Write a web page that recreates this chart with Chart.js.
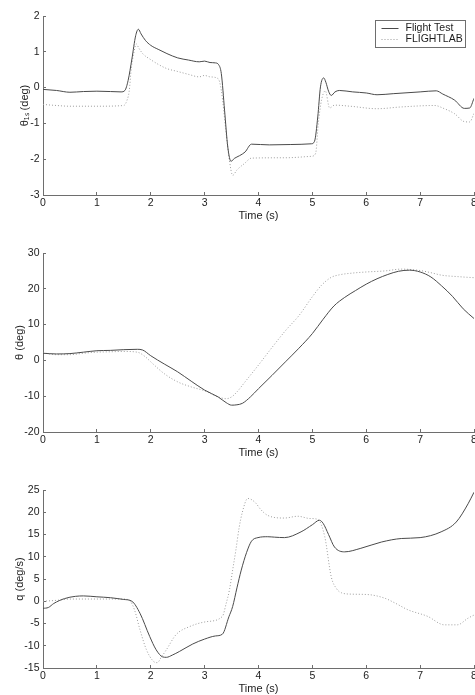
<!DOCTYPE html>
<html><head><meta charset="utf-8">
<script src="https://cdn.jsdelivr.net/npm/chart.js@4/dist/chart.umd.min.js"></script>
<style>
html,body{margin:0;padding:0;background:#fff;width:475px;height:695px;overflow:hidden;position:relative}
canvas{position:absolute;left:0}
</style></head><body>
<canvas id="c1" width="500" height="232" style="top:0px"></canvas>
<canvas id="c2" width="500" height="232" style="top:232px"></canvas>
<canvas id="c3" width="500" height="250" style="top:464px"></canvas>
<script>
// ---------- data ----------
const seriesLabels = ['Flight Test', 'FLIGHTLAB'];
const xTitle = 'Time (s)';
const xTicks = [0, 1, 2, 3, 4, 5, 6, 7, 8];

// Plot 1: theta_1s (deg)
const yTitle1 = 'θ₁ₛ (deg)';
const yTicks1 = [-3, -2, -1, 0, 1, 2];
const t1Flight = [0,0.25,0.5,0.75,1.0,1.25,1.45,1.52,1.58,1.65,1.72,1.77,1.82,1.9,2.0,2.15,2.3,2.5,2.7,2.9,3.0,3.1,3.2,3.26,3.31,3.37,3.43,3.49,3.55,3.65,3.75,3.87,4.2,4.6,4.98,5.04,5.1,5.15,5.21,5.25,5.3,5.35,5.42,5.5,5.75,6.0,6.2,6.5,7.0,7.3,7.42,7.64,7.82,7.92,8.0];
const y1Flight = [-0.05,-0.08,-0.13,-0.11,-0.1,-0.11,-0.12,-0.08,0.2,0.8,1.45,1.63,1.5,1.32,1.18,1.06,0.95,0.83,0.77,0.72,0.74,0.7,0.69,0.64,0.39,-0.63,-1.66,-2.06,-1.98,-1.9,-1.8,-1.58,-1.6,-1.59,-1.57,-1.5,-0.82,0.02,0.27,0.15,-0.1,-0.22,-0.12,-0.08,-0.12,-0.15,-0.2,-0.17,-0.12,-0.09,-0.18,-0.35,-0.58,-0.57,-0.3];
const t1Lab = [0,0.25,0.5,1.0,1.5,1.56,1.6,1.64,1.69,1.73,1.78,1.85,2.0,2.15,2.3,2.5,2.7,2.9,3.0,3.1,3.25,3.31,3.4,3.46,3.52,3.6,3.74,3.87,4.5,4.98,5.06,5.11,5.17,5.24,5.32,5.41,5.7,6.2,6.65,7.27,7.45,7.64,7.82,7.92,8.0];
const y1Lab = [-0.47,-0.5,-0.52,-0.52,-0.5,-0.35,-0.1,0.55,1.0,1.22,1.1,0.95,0.78,0.64,0.53,0.45,0.37,0.3,0.34,0.3,0.25,-0.08,-1.28,-2.03,-2.45,-2.3,-2.12,-1.97,-1.96,-1.92,-1.84,-1.0,-0.35,-0.09,-0.57,-0.49,-0.52,-0.59,-0.54,-0.5,-0.59,-0.73,-0.95,-0.96,-0.72];

// Plot 2: theta (deg)
const yTitle2 = 'θ (deg)';
const yTicks2 = [-20, -10, 0, 10, 20, 30];
const t2Flight = [0,0.25,0.5,0.75,1.0,1.25,1.5,1.75,1.85,2.0,2.25,2.5,2.75,3.0,3.25,3.4,3.5,3.6,3.7,3.85,4.0,4.25,4.5,4.75,5.0,5.2,5.4,5.6,5.8,6.0,6.2,6.4,6.6,6.8,7.0,7.2,7.4,7.6,7.8,8.0];
const y2Flight = [2.0,1.8,1.9,2.3,2.7,2.8,3.0,3.1,2.9,1.3,-1.0,-3.2,-5.8,-8.3,-10.2,-11.8,-12.5,-12.4,-12.0,-10.2,-7.9,-4.2,-0.4,3.4,7.5,11.5,15.2,17.6,19.5,21.3,22.8,24.0,24.9,25.2,24.7,23.3,20.8,17.9,14.4,11.7];
const t2Lab = [0,0.25,0.5,0.75,1.0,1.25,1.5,1.75,1.9,2.0,2.25,2.5,2.75,3.0,3.25,3.4,3.5,3.6,3.75,4.0,4.25,4.5,4.75,5.0,5.17,5.35,5.5,5.75,6.0,6.35,6.65,7.0,7.2,7.4,7.7,8.0];
const y2Lab = [2.1,1.6,1.6,2.0,2.3,2.4,2.5,2.3,1.0,-0.4,-3.7,-6.0,-7.4,-8.5,-10.2,-10.7,-10.2,-8.8,-6.0,-1.3,3.6,8.3,12.5,17.8,21.0,23.2,23.9,24.4,24.7,25.0,25.5,25.1,24.5,23.8,23.4,23.1];

// Plot 3: q (deg/s)
const yTitle3 = 'q (deg/s)';
const yTicks3 = [-15, -10, -5, 0, 5, 10, 15, 20, 25];
const t3Flight = [0,0.1,0.2,0.4,0.6,0.75,1.0,1.25,1.5,1.65,1.8,1.98,2.1,2.22,2.29,2.4,2.53,2.78,3.0,3.2,3.33,3.45,3.52,3.6,3.68,3.78,3.87,3.99,4.17,4.3,4.48,4.79,5.0,5.13,5.2,5.3,5.41,5.6,5.9,6.28,6.65,7.0,7.39,7.67,7.89,8.0];
const y3Flight = [-1.6,-1.4,-0.5,0.6,1.1,1.2,1.0,0.8,0.4,0.0,-2.7,-7.9,-10.9,-12.5,-12.6,-12.1,-11.3,-9.6,-8.5,-7.8,-7.4,-3.5,-1.2,3.0,7.0,11.0,13.5,14.3,14.5,14.4,14.3,15.6,17.2,18.2,17.5,15.0,12.2,11.1,11.9,13.3,14.1,14.3,15.6,17.8,21.9,24.5];
const t3Lab = [0,0.25,0.5,1.0,1.5,1.62,1.7,1.8,1.92,2.05,2.12,2.2,2.29,2.47,2.72,3.03,3.33,3.4,3.46,3.52,3.58,3.64,3.7,3.8,3.93,4.05,4.17,4.48,4.73,4.95,5.1,5.23,5.35,5.45,5.54,5.72,6.03,6.34,6.55,6.77,7.14,7.45,7.69,7.89,8.0];
const y3Lab = [0,0.2,0.5,0.5,0.5,0.0,-2.0,-6.4,-10.9,-13.5,-13.8,-12.5,-10.9,-7.5,-5.7,-4.6,-3.4,-0.5,2.5,7.0,11.5,16.5,20.0,23.1,22.3,20.5,19.3,18.7,19.1,18.6,18.4,14.5,5.5,2.8,1.9,1.6,1.5,0.7,-0.5,-1.9,-3.4,-5.3,-5.3,-3.8,-3.1];

// ---------- styling ----------
const FONT = '"Liberation Sans", Arial, Helvetica, sans-serif';
const AXIS = '#6e6e6e';
const TEXT = '#1c1c1c';
const SOLID = '#4a4a4a';
const DOTTED = '#9c9c9c';

const boxLegend = {
  id: 'boxLegend',
  afterDatasetsDraw(chart, args, opts) {
    if (!opts.display) return;
    const { ctx, chartArea: a } = chart;
    const w = 90, h = 27;
    const x = Math.round(a.right - 99) + 0.5, y = Math.round(a.top + 4) + 0.5;
    ctx.save();
    ctx.fillStyle = '#fff';
    ctx.fillRect(x, y, w, h);
    ctx.strokeStyle = AXIS; ctx.lineWidth = 1;
    ctx.strokeRect(x, y, w, h);
    ctx.font = '10.5px ' + FONT;
    ctx.textBaseline = 'middle';
    chart.data.datasets.forEach((ds, i) => {
      const cy = Math.round(y + 7 + i * 11.7) + 0.5;
      ctx.strokeStyle = ds.borderColor;
      ctx.setLineDash(ds.borderDash || []);
      ctx.beginPath(); ctx.moveTo(x + 6, cy); ctx.lineTo(x + 23, cy); ctx.stroke();
      ctx.setLineDash([]);
      ctx.fillStyle = TEXT;
      ctx.fillText(ds.label, x + 30, cy);
    });
    ctx.restore();
  }
};

function pts(t, v) { return t.map((x, i) => ({ x: x, y: v[i] })); }

function makeChart(id, c) {
  const xH = 28;
  const padTop = c.areaTop - c.canvasTop;
  const padBottom = c.canvasHeight - (c.areaBottom - c.canvasTop) - xH;
  new Chart(document.getElementById(id), {
    type: 'line',
    data: {
      datasets: [
        { label: seriesLabels[0], data: pts(c.tA, c.vA), borderColor: SOLID, backgroundColor: SOLID, borderWidth: 1, pointRadius: 0, cubicInterpolationMode: 'monotone', fill: false },
        { label: seriesLabels[1], data: pts(c.tB, c.vB), borderColor: DOTTED, backgroundColor: DOTTED, borderWidth: 1, borderDash: [1, 2], pointRadius: 0, cubicInterpolationMode: 'monotone', fill: false }
      ]
    },
    options: {
      responsive: false, animation: false, devicePixelRatio: 1, events: [],
      layout: { padding: { left: 0, top: padTop, right: 26, bottom: padBottom } },
      plugins: { legend: { display: false }, tooltip: { enabled: false }, boxLegend: { display: !!c.legend } },
      scales: {
        x: {
          type: 'linear', min: 0, max: 8,
          afterBuildTicks: s => { s.ticks = xTicks.map(v => ({ value: v })); },
          afterFit: s => { s.height = xH; },
          ticks: { autoSkip: false, maxRotation: 0, padding: 5, color: TEXT, font: { family: FONT, size: 10.5 }, callback: v => String(v) },
          grid: { drawOnChartArea: false, tickLength: -3, color: AXIS, lineWidth: 1 },
          border: { color: AXIS, width: 1 },
          title: { display: true, text: xTitle, color: TEXT, font: { family: FONT, size: 11 }, padding: { top: 0, bottom: 0 } }
        },
        y: {
          type: 'linear', min: c.yTicks[0], max: c.yTicks[c.yTicks.length - 1],
          afterBuildTicks: s => { s.ticks = c.yTicks.map(v => ({ value: v })); },
          afterFit: s => { s.width = 43; },
          ticks: { autoSkip: false, padding: 6.5, color: TEXT, font: { family: FONT, size: 10.5 }, callback: v => String(v) },
          grid: { drawOnChartArea: false, tickLength: -3, color: AXIS, lineWidth: 1 },
          border: { color: AXIS, width: 1 },
          title: { display: true, text: c.yTitle, color: TEXT, font: { family: FONT, size: 11 }, padding: { top: c.yTitlePad, bottom: 0 } }
        }
      }
    },
    plugins: [boxLegend]
  });
}

makeChart('c1', { canvasTop: 0, canvasHeight: 232, areaTop: 16, areaBottom: 195, yTicks: yTicks1, yTitle: yTitle1, yTitlePad: 18, tA: t1Flight, vA: y1Flight, tB: t1Lab, vB: y1Lab, legend: true });
makeChart('c2', { canvasTop: 232, canvasHeight: 232, areaTop: 253, areaBottom: 432, yTicks: yTicks2, yTitle: yTitle2, yTitlePad: 13, tA: t2Flight, vA: y2Flight, tB: t2Lab, vB: y2Lab, legend: false });
makeChart('c3', { canvasTop: 464, canvasHeight: 250, areaTop: 490, areaBottom: 668, yTicks: yTicks3, yTitle: yTitle3, yTitlePad: 13, tA: t3Flight, vA: y3Flight, tB: t3Lab, vB: y3Lab, legend: false });
</script>
</body></html>
